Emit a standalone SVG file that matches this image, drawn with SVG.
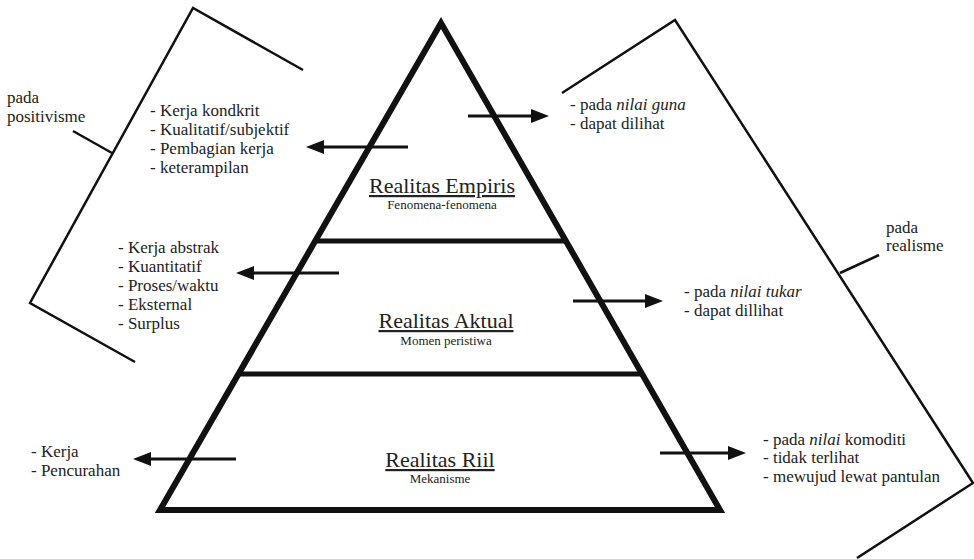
<svg xmlns="http://www.w3.org/2000/svg" width="974" height="559" viewBox="0 0 974 559">
  <style>
    text { font-family: "Liberation Serif", "Times New Roman", serif; fill: #222; }
    .item { font-size: 17px; }
    .title { font-size: 22px; text-anchor: middle; text-decoration: underline; }
    .sub { font-size: 13px; text-anchor: middle; }
    .bracket { fill: none; stroke: #111; stroke-width: 2.5; stroke-linejoin: miter; }
    .pyr { fill: none; stroke: #111; stroke-width: 6; stroke-linejoin: miter; stroke-miterlimit: 10; }
    .band { stroke: #111; stroke-width: 5; }
    .arrow { stroke: #111; stroke-width: 3; fill: none; marker-end: url(#head); }
  </style>
  <defs>
    <marker id="head" markerUnits="userSpaceOnUse" markerWidth="18" markerHeight="14" refX="8" refY="7" orient="auto">
      <path d="M0,0 L18,7 L0,14 z" fill="#111"/>
    </marker>
  </defs>

  <!-- brackets grouping the two sides -->
  <g id="bracket-positivisme">
    <polyline class="bracket" points="303,70 193,8 30,303 135,362"/>
    <line class="bracket" x1="73" y1="131" x2="112" y2="153"/>
    <text class="item" x="7" y="103">pada</text>
    <text class="item" x="7" y="122">positivisme</text>
  </g>
  <g id="bracket-realisme">
    <polyline class="bracket" points="562,93 675,20 973,483 857,558"/>
    <line class="bracket" x1="840" y1="273" x2="879" y2="255"/>
    <text class="item" x="886" y="233">pada</text>
    <text class="item" x="886" y="251">realisme</text>
  </g>

  <!-- pyramid of three layers -->
  <g id="pyramid">
    <polygon class="pyr" points="441,23 160,510 720,510"/>
    <line class="band" x1="315" y1="241" x2="566" y2="241"/>
    <line class="band" x1="238" y1="374" x2="642" y2="374"/>
  </g>
  <g id="realitas-empiris">
    <text class="title" x="442" y="193">Realitas Empiris</text>
    <text class="sub" x="442" y="209">Fenomena-fenomena</text>
  </g>
  <g id="realitas-aktual">
    <text class="title" x="446" y="328">Realitas Aktual</text>
    <text class="sub" x="446" y="345">Momen peristiwa</text>
  </g>
  <g id="realitas-riil">
    <text class="title" x="440" y="467">Realitas Riil</text>
    <text class="sub" x="440" y="483">Mekanisme</text>
  </g>

  <!-- left-hand lists -->
  <g id="list-kerja-kondkrit" class="item">
    <text class="item" x="150" y="116">- Kerja kondkrit</text>
    <text class="item" x="150" y="135">- Kualitatif/subjektif</text>
    <text class="item" x="150" y="154">- Pembagian kerja</text>
    <text class="item" x="150" y="173">- keterampilan</text>
  </g>
  <g id="list-kerja-abstrak">
    <text class="item" x="118" y="253">- Kerja abstrak</text>
    <text class="item" x="118" y="272">- Kuantitatif</text>
    <text class="item" x="118" y="291">- Proses/waktu</text>
    <text class="item" x="118" y="310">- Eksternal</text>
    <text class="item" x="118" y="329">- Surplus</text>
  </g>
  <g id="list-kerja">
    <text class="item" x="31" y="457">- Kerja</text>
    <text class="item" x="31" y="476">- Pencurahan</text>
  </g>

  <!-- right-hand lists -->
  <g id="list-nilai-guna">
    <text class="item" x="570" y="110">- pada <tspan font-style="italic">nilai guna</tspan></text>
    <text class="item" x="570" y="129">- dapat dilihat</text>
  </g>
  <g id="list-nilai-tukar">
    <text class="item" x="684" y="297">- pada <tspan font-style="italic">nilai tukar</tspan></text>
    <text class="item" x="684" y="316">- dapat dillihat</text>
  </g>
  <g id="list-nilai-komoditi">
    <text class="item" x="763" y="445">- pada <tspan font-style="italic">nilai</tspan> komoditi</text>
    <text class="item" x="763" y="463">- tidak terlihat</text>
    <text class="item" x="763" y="482">- mewujud lewat pantulan</text>
  </g>

  <!-- connectors -->
  <g id="connectors">
    <line class="arrow" x1="468" y1="116" x2="539" y2="116"/>
    <line class="arrow" x1="408" y1="147" x2="316" y2="147"/>
    <line class="arrow" x1="339" y1="273" x2="246" y2="273"/>
    <line class="arrow" x1="573" y1="301" x2="653" y2="301"/>
    <line class="arrow" x1="236" y1="459" x2="143" y2="459"/>
    <line class="arrow" x1="660" y1="453" x2="736" y2="453"/>
  </g>
</svg>
